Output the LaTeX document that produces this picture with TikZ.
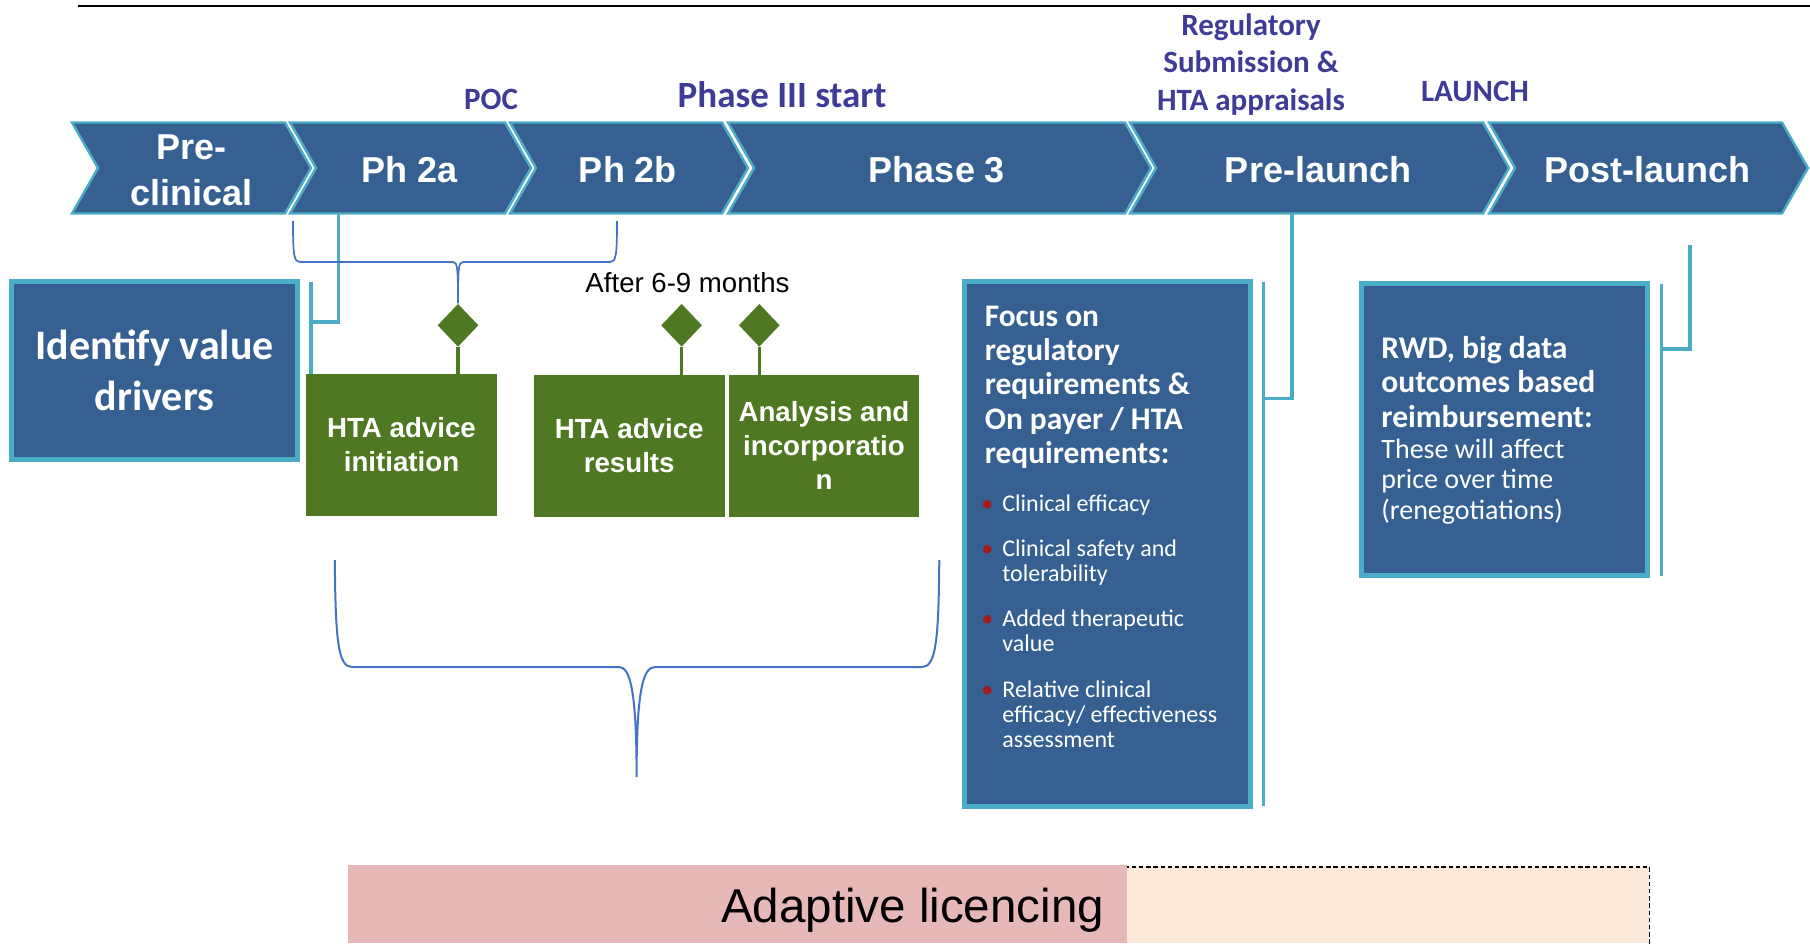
\documentclass[tikz,border=0pt]{standalone}
\usepackage{fontspec}
\setmainfont{Liberation Sans}
\newfontfamily\calfont{Carlito}
\usetikzlibrary{shapes.geometric}

\definecolor{stageblue}{RGB}{54,96,146}
\definecolor{rimblue}{RGB}{75,172,198}
\definecolor{milestone}{RGB}{62,60,150}
\definecolor{leaf}{RGB}{79,120,34}
\definecolor{braceblue}{RGB}{68,114,196}
\definecolor{dotred}{RGB}{165,25,25}
\definecolor{rosebar}{RGB}{230,185,184}
\definecolor{peachbar}{RGB}{253,233,217}

\newcommand{\fsz}[2]{\fontsize{#1}{#2}\selectfont}
\newcommand{\bul}{\llap{\textcolor{dotred}{\textbullet}\hspace{4.5pt}}}
% one arrow-shaped stage of the timeline: left edge, right edge
\newcommand{\stagepath}[2]{\path[stage] (#1,122.5) -- (#2,122.5) -- ({#2+26},168) -- (#2,213.5) -- (#1,213.5) -- ({#1+26},168) -- cycle;}

\tikzset{
  stage/.style={fill=stageblue, draw=rimblue, line width=1.2pt, line join=miter},
  stagetext/.style={text=white, font=\bfseries\fsz{18}{23}, align=center, inner sep=0pt},
  mslabel/.style={text=milestone, font=\calfont\bfseries\fsz{15.5}{18.75}, align=center, inner sep=0pt},
  framebox/.style={fill=stageblue, draw=rimblue, line width=2.5pt, inner sep=0pt},
  hta/.style={fill=leaf, text=white, inner sep=0pt, minimum width=95.3pt, minimum height=70.85pt,
              font=\bfseries\fsz{13.85}{17}, align=center},
  gem/.style={diamond, fill=leaf, inner sep=0pt, minimum width=20.5pt, minimum height=21.5pt},
  stem/.style={draw=leaf, line width=1.8pt},
  tie/.style={draw=rimblue, line width=1.8pt},
  brace/.style={draw=braceblue, line width=1pt},
  thinbrace/.style={draw=braceblue, line width=0.85pt},
  boxtext/.style={text=white, inner sep=0pt, align=left},
  dashedge/.style={draw=black, line width=0.8pt, dash pattern=on 2.2pt off 1.4pt},
}

\begin{document}
\begin{tikzpicture}[x=0.5pt, y=-0.5pt]
\useasboundingbox (0,0) rectangle (1810,943);

% rule across the top
\draw[line width=1.3pt] (78,6) -- (1810,6);

% timeline stages
\stagepath{72}{285}
\stagepath{290}{505}
\stagepath{510}{722}
\stagepath{728}{1125}
\stagepath{1130}{1483}
\stagepath{1489}{1782}

% (multi-line nodes: anchor=base sits on the last line)
\node[stagetext, anchor=base] (preclin)    at (191.5,205) {Pre-\\clinical};
\node[stagetext, anchor=base] (ph2a)       at (410,182)   {Ph 2a};
\node[stagetext, anchor=base] (ph2b)       at (628,182)   {Ph 2b};
\node[stagetext, anchor=base] (ph3)        at (937,182)   {Phase 3};
\node[stagetext, anchor=base] (prelaunch)  at (1318,182)  {Pre-launch};
\node[stagetext, anchor=base] (postlaunch) at (1647,182)  {Post-launch};

% milestones above the stages
\node[mslabel, anchor=base] (poc) at (491,109.3) {POC};
\node[mslabel, anchor=base, font=\calfont\bfseries\fsz{18.5}{22}] (p3start) at (782,107.3) {Phase III start};
\node[mslabel, anchor=base] (regsub) at (1251,110) {Regulatory\\Submission \&\\HTA appraisals};
\node[mslabel, anchor=base] (launch) at (1475,101.7) {LAUNCH};

% value drivers box and its tie to Ph 2a
\node[framebox, minimum width=143pt, minimum height=89pt, text=white,
      font=\calfont\bfseries\fsz{21}{25.3}, align=center] (idbox) at (154.5,370.5) {Identify value\\drivers};
\coordinate (ph2a-foot) at (338.6,214);
\coordinate (id-knee) at (311,321.7);
\coordinate (id-bar-top) at (311,281.7);

% HTA advice boxes
\node[hta] (hta1) at (401.5,444.85) {HTA advice\\initiation};
\node[hta] (hta2) at (629.2,445.85) {HTA advice\\results};
\node[hta] (hta3) at (824,445.85) {Analysis and\\incorporatio\\n};

\draw[tie] (ph2a-foot) |- (id-knee);
\draw[tie] (id-bar-top) -- (id-bar-top |- hta1.north);

% milestone diamonds
\node[gem] (gem1) at (458,325.3) {};
\node[gem] (gem2) at (681.6,325.3) {};
\node[gem] (gem3) at (759.3,325.3) {};
\draw[stem] (gem1.south) -- (gem1.south |- hta1.north);
\draw[stem] (gem2.south) -- (gem2.south |- hta2.north);
\draw[stem] (gem3.south) -- (gem3.south |- hta3.north);

% brace over Ph 2a and Ph 2b
\draw[thinbrace] (293,221) .. controls (293,256) and (294,262) .. (300,262) -- (453,262)
  .. controls (457.5,262) and (458,268) .. (gem1.north)
  .. controls (458,268) and (458.5,262) .. (463,262) -- (610,262)
  .. controls (616,262) and (617,256) .. (617,221);

\node[anchor=base, font=\fsz{13.8}{16}] (after) at (687.5,292.7) {After 6-9 months};

% brace under the HTA advice boxes
\draw[brace] (334.8,560) .. controls (335.5,640) and (338,667) .. (352,667) -- (619,667)
  .. controls (630,667) and (636.6,690) .. (636.6,777)
  .. controls (636.6,690) and (643,667) .. (655,667) -- (922,667)
  .. controls (936,667) and (938.6,640) .. (939.3,560);

% regulatory focus box
\node[framebox, minimum width=142.75pt, minimum height=262.25pt] (focusbox) at (1107.25,543.75) {};
\node[boxtext, font=\calfont\bfseries\fsz{15.7}{17.15}, anchor=base west] (focushead) at (984.4,463.5)
  {Focus on\\regulatory\\requirements \&\\On payer / HTA\\requirements:};
\node[boxtext, font=\calfont\fsz{12}{12.4}, anchor=base west] (focuslist) at (1002,747)
  {\bul Clinical efficacy\\[9.8pt]
   \bul Clinical safety and\\tolerability\\[10.5pt]
   \bul Added therapeutic\\value\\[10.5pt]
   \bul Relative clinical\\efficacy/ effectiveness\\assessment};
\coordinate (pre-foot) at (1292,214);
\coordinate (focus-knee) at (1263.5,398.4);
\coordinate (focus-bar-top) at (1263.5,281.7);
\coordinate (focus-bar-end) at (1263.5,806);
\draw[tie] (pre-foot) |- (focus-knee);
\draw[tie] (focus-bar-top) -- (focus-bar-end);

% real-world data box
\node[framebox, minimum width=143pt, minimum height=146.25pt] (rwdbox) at (1504.5,429.25) {};
\node[boxtext, font=\calfont\bfseries\fsz{15.8}{17.25}, anchor=base west] (rwdhead) at (1381,427)
  {RWD, big data\\outcomes based\\reimbursement:};
\node[boxtext, font=\calfont\fsz{14}{15.2}, anchor=base west] (rwdbody) at (1381,519)
  {These will affect\\price over time\\(renegotiations)};
\coordinate (post-foot) at (1690,245);
\coordinate (rwd-knee) at (1661.4,349);
\coordinate (rwd-bar-top) at (1661.4,283.6);
\coordinate (rwd-bar-end) at (1661.4,576);
\draw[tie] (post-foot) |- (rwd-knee);
\draw[tie] (rwd-bar-top) -- (rwd-bar-end);

% adaptive licencing band
\node[fill=rosebar, inner sep=0pt, minimum width=389.3pt, minimum height=39pt, anchor=north west] (roseband) at (348,865) {};
\node[fill=peachbar, inner sep=0pt, minimum width=261.05pt, minimum height=38.15pt, anchor=north west] (peachband) at (1126.6,866.7) {};
\draw[dashedge] (peachband.south east) -- (peachband.north east) -- (peachband.north west);
\node[anchor=base east, inner sep=0pt, font=\fsz{23.75}{28}] (adapt) at (1104.4,922.7) {Adaptive licencing};

\end{tikzpicture}
\end{document}
